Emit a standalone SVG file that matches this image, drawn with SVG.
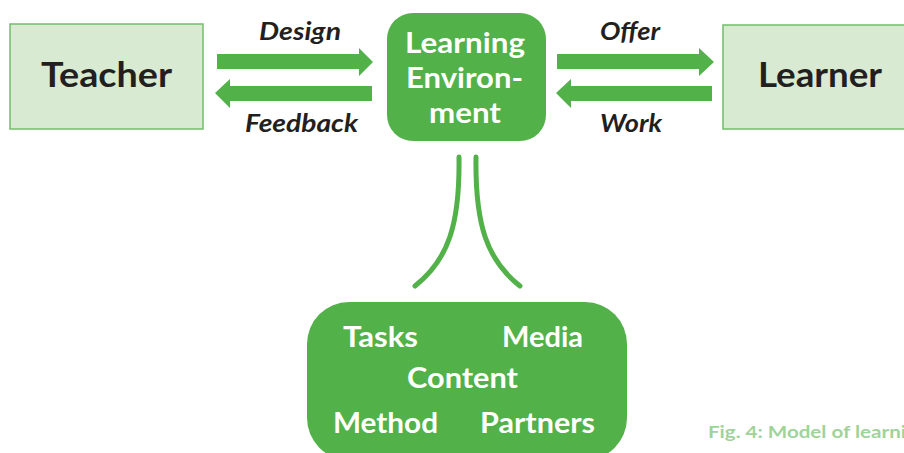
<svg xmlns="http://www.w3.org/2000/svg" width="904" height="453" viewBox="0 0 904 453">
<style>
.lbox{fill:#d9ead3;stroke:#72bf6a;stroke-width:1.5}
.gbox{fill:#52b148}
.big{font-family:Lato,"Open Sans",sans-serif;font-weight:bold;font-size:35px;fill:#231f20}
.wt{font-family:Lato,"Open Sans",sans-serif;font-weight:bold;font-size:28px;fill:#ffffff}
.lab{font-family:Lato,"Open Sans",sans-serif;font-weight:bold;font-style:italic;font-size:24px;fill:#231f20}
.arr{fill:#52b148}
.crv{fill:none;stroke:#52b148;stroke-width:5;stroke-linecap:round}
.cap{font-family:Lato,"Open Sans",sans-serif;font-weight:bold;font-size:17px;fill:#9fd39a}
</style>
<rect width="904" height="453" fill="#ffffff"/>
<g id="teacher">
<rect class="lbox" x="10" y="24" width="193" height="105"/>
<text class="big" x="41" y="87" textLength="131" lengthAdjust="spacingAndGlyphs">Teacher</text>
</g>
<g id="learner">
<rect class="lbox" x="723" y="25" width="200" height="104"/>
<text class="big" x="758" y="87" textLength="124" lengthAdjust="spacingAndGlyphs">Learner</text>
</g>
<g id="env">
<rect class="gbox" x="387" y="13" width="159" height="128" rx="26"/>
<text class="wt" x="405" y="53" textLength="120" lengthAdjust="spacingAndGlyphs">Learning</text>
<text class="wt" x="406" y="88" textLength="117" lengthAdjust="spacingAndGlyphs">Environ-</text>
<text class="wt" x="429" y="123" textLength="72" lengthAdjust="spacingAndGlyphs">ment</text>
</g>
<g id="elements">
<rect class="gbox" x="307" y="302" width="320" height="158" rx="42"/>
<text class="wt" x="343" y="347" textLength="75" lengthAdjust="spacingAndGlyphs">Tasks</text>
<text class="wt" x="502" y="347" textLength="81" lengthAdjust="spacingAndGlyphs">Media</text>
<text class="wt" x="407" y="388" textLength="111" lengthAdjust="spacingAndGlyphs">Content</text>
<text class="wt" x="333" y="433" textLength="105" lengthAdjust="spacingAndGlyphs">Method</text>
<text class="wt" x="480" y="433" textLength="115" lengthAdjust="spacingAndGlyphs">Partners</text>
</g>
<g id="connectors">
<polygon class="arr" points="217,54 359,54 359,48 373,62 359,76 359,69 217,69"/>
<polygon class="arr" points="372,86 230,86 230,79 215,93 230,108 230,101 372,101"/>
<polygon class="arr" points="557,54 699,54 699,48 714,62 699,76 699,69 557,69"/>
<polygon class="arr" points="712,86 571,86 571,79 556,93 571,108 571,101 712,101"/>
<path class="crv" d="M459,157 C460,225 448,260 415,286"/>
<path class="crv" d="M476,157 C475,225 487,260 520,286"/>
<text class="lab" x="259" y="40" textLength="82" lengthAdjust="spacingAndGlyphs">Design</text>
<text class="lab" x="245" y="132" textLength="113" lengthAdjust="spacingAndGlyphs">Feedback</text>
<text class="lab" x="600" y="40" textLength="60" lengthAdjust="spacingAndGlyphs">Offer</text>
<text class="lab" x="600" y="132" textLength="62" lengthAdjust="spacingAndGlyphs">Work</text>
</g>
<text class="cap" x="708" y="438" textLength="198" lengthAdjust="spacingAndGlyphs">Fig. 4: Model of learni</text>
</svg>
